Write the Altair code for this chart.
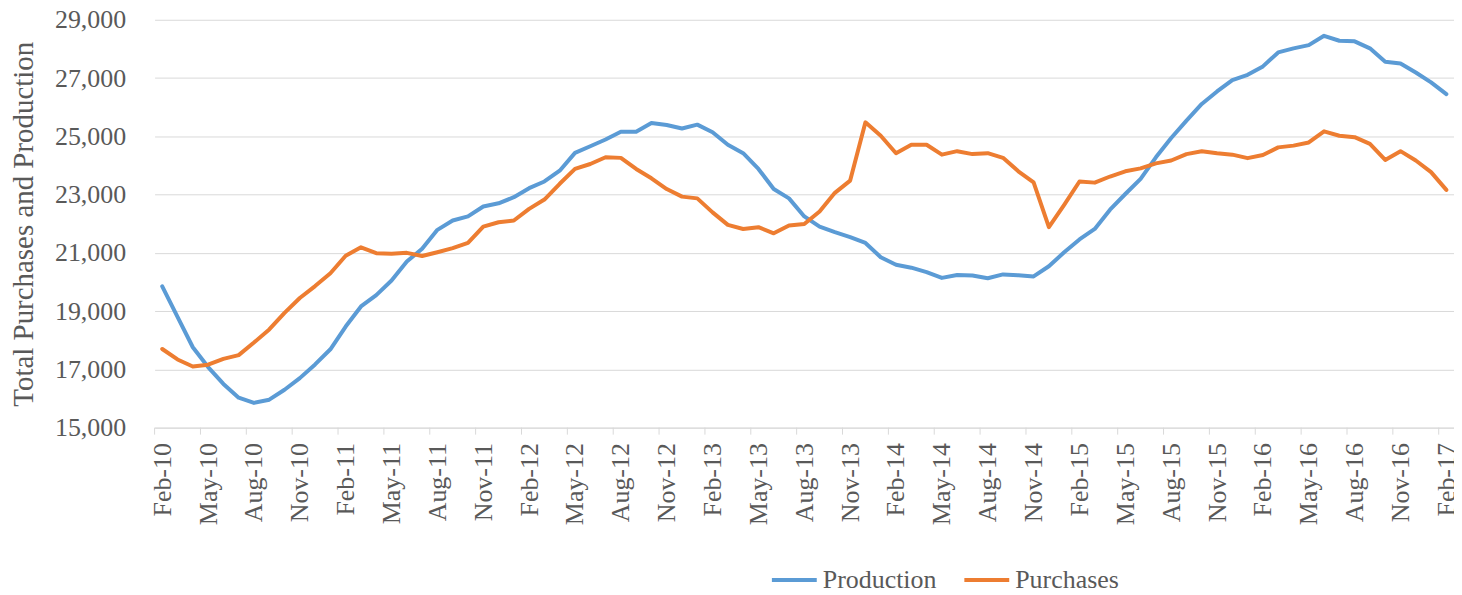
import altair as alt
import pandas as pd

months = pd.date_range("2010-02-01", periods=85, freq="MS").strftime("%b-%y").tolist()

production = [
    19850, 18800, 17760, 17080, 16500, 16030, 15850, 15960, 16300, 16700,
    17170, 17690, 18470, 19160, 19550, 20050, 20700, 21140, 21790, 22110,
    22250, 22590, 22700, 22910, 23220, 23450, 23820, 24430, 24660, 24890,
    25160, 25160, 25460, 25390, 25270, 25400, 25140, 24710, 24420, 23880,
    23190, 22870, 22250, 21900, 21710, 21540, 21340, 20850, 20590, 20490,
    20340, 20140, 20240, 20220, 20130, 20260, 20230, 20190, 20540, 21020,
    21460, 21820, 22480, 23020, 23540, 24280, 24940, 25540, 26110, 26540,
    26930, 27110, 27400, 27880, 28020, 28130, 28450, 28280, 28260, 28020,
    27560, 27500, 27190, 26850, 26450,
]

purchases = [
    17700, 17340, 17100, 17160, 17360, 17490, 17920, 18370, 18940, 19450,
    19860, 20300, 20900, 21190, 20990, 20970, 21000, 20890, 21020, 21160,
    21340, 21900, 22050, 22110, 22510, 22830, 23370, 23880, 24050, 24280,
    24260, 23880, 23560, 23190, 22930, 22870, 22390, 21960, 21820, 21880,
    21670, 21940, 21990, 22420, 23060, 23480, 25480, 25020, 24420, 24710,
    24710, 24370, 24490, 24390, 24420, 24260, 23800, 23420, 21880, 22650,
    23450, 23410, 23620, 23800, 23900, 24070, 24170, 24390, 24490, 24420,
    24370, 24250, 24360, 24620, 24680, 24790, 25170, 25020, 24970, 24740,
    24190, 24490, 24170, 23770, 23160,
]

series_names = ["Production", "Purchases"]
series_colors = ["#5B9BD5", "#ED7D31"]
y_ticks = [15000, 17000, 19000, 21000, 23000, 25000, 27000, 29000]

FONT = "Liberation Serif"
TXT = "#595959"
GRID = "#D9D9D9"

rows = []
for i, m in enumerate(months):
    rows.append({"idx": i, "month": m, "series": "Production", "value": production[i]})
    rows.append({"idx": i, "month": m, "series": "Purchases", "value": purchases[i]})
df = pd.DataFrame(rows)

tick_pos = pd.DataFrame({"idx": [k * 3 - 0.5 for k in range(29)]})

label_expr = "[" + ",".join("'" + m + "'" for m in months) + "][datum.value]"

W, H = 1303, 409

xscale = alt.Scale(domain=[-0.5, 84.5], nice=False, zero=False)

lines = alt.Chart(df).mark_line(strokeWidth=4, strokeCap="round", strokeJoin="round").encode(
    x=alt.X("idx:Q", scale=xscale,
            axis=alt.Axis(values=list(range(0, 85, 3)), labelExpr=label_expr, labelAngle=-90,
                          ticks=False, tickSize=0, grid=False, domainColor=GRID, labelPadding=15,
                          labelFont=FONT, labelFontSize=26, labelColor=TXT, title=None,
                          labelOverlap=False, labelBound=False, labelFlush=False)),
    y=alt.Y("value:Q", scale=alt.Scale(domain=[15000, 29000], nice=False, zero=False),
            axis=alt.Axis(values=y_ticks, format=",d", grid=True, gridColor=GRID, domain=False,
                          ticks=False, tickSize=0, labelPadding=29, labelFont=FONT, labelFontSize=26,
                          labelColor=TXT, title="Total Purchases and Production", titleFont=FONT,
                          titleFontSize=29, titleFontWeight="normal", titleColor=TXT,
                          titleX=-131, titleY=H / 2, titleAngle=-90, titleAlign="center",
                          titleBaseline="middle", labelOverlap=False)),
    color=alt.Color("series:N", scale=alt.Scale(domain=series_names, range=series_colors),
                    legend=alt.Legend(orient="none", legendX=617, legendY=537, direction="horizontal",
                                      title=None, symbolType="stroke", symbolSize=2025,
                                      symbolStrokeWidth=4, labelFont=FONT, labelFontSize=26,
                                      labelColor=TXT, columnPadding=19, labelOffset=4)),
)

ticks = alt.Chart(tick_pos).mark_rule(color=GRID, strokeWidth=1).encode(
    x=alt.X("idx:Q", scale=xscale),
    y=alt.value(H),
    y2=alt.value(H + 7),
)

chart = alt.layer(lines, ticks).properties(
    width=W, height=H,
    autosize=alt.AutoSizeParams(type="none"),
    padding={"left": 147, "top": 11, "right": 0, "bottom": 166},
).configure_view(stroke=None)

chart.save("out.html", embed_options={"renderer": "svg", "actions": False})
